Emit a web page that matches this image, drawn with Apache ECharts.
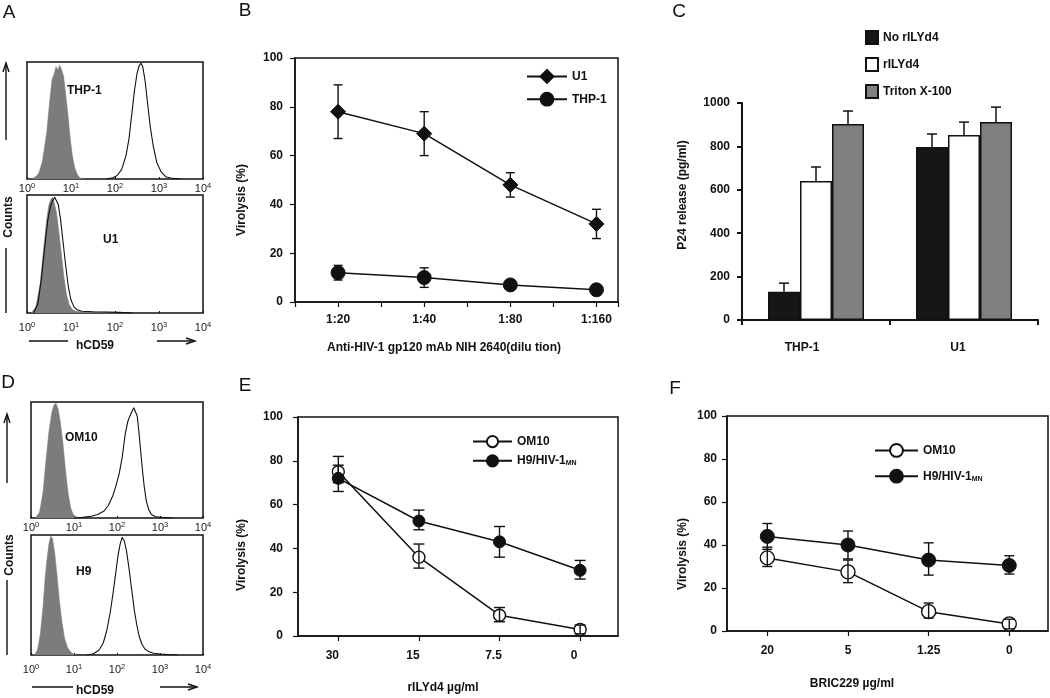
<!DOCTYPE html>
<html><head><meta charset="utf-8">
<script src="https://cdn.jsdelivr.net/npm/echarts@6.0.0/dist/echarts.min.js"></script>
<style>html,body{margin:0;padding:0;background:#fff}#c{width:1050px;height:698px}</style>
</head><body><div id="c"></div>
<script>
// ---------------- DATA ----------------
// Flow histograms: x in decades of log10(fluorescence), y = % of max counts
const aTopIsoX  = [0.1,0.2,0.27,0.35,0.45,0.52,0.57,0.62,0.66,0.7,0.74,0.78,0.83,0.88,0.93,0.98,1.03,1.08,1.14,1.2,1.3];
const aTopIsoY  = [0,2,5,15,40,68,85,90,96,93,97,94,88,72,55,35,20,10,4,1,0];
const aTopCD59X = [1.8,1.95,2.05,2.15,2.25,2.32,2.38,2.44,2.5,2.55,2.59,2.63,2.68,2.74,2.8,2.87,2.95,3.05,3.15,3.3,3.5];
const aTopCD59Y = [0,1,3,8,20,35,55,75,90,97,99,96,85,65,45,28,14,6,2,0.5,0];
const aBotIsoX  = [0.1,0.2,0.3,0.38,0.45,0.5,0.54,0.58,0.62,0.67,0.72,0.78,0.84,0.9,0.96,1.03,1.1,1.2,1.4,1.7,2.0,2.3];
const aBotIsoY  = [0,5,25,55,80,92,96,98,93,85,70,50,30,15,7,3,1.5,1,0.8,0.6,0.4,0];
const aBotCD59X = [0.15,0.25,0.33,0.4,0.47,0.53,0.58,0.63,0.67,0.71,0.76,0.82,0.88,0.94,1.0,1.07,1.15,1.25,1.5,1.8,2.1,2.4];
const aBotCD59Y = [0,8,30,55,78,90,95,98,97,92,80,60,40,22,11,5,2.5,1.5,1,0.8,0.5,0];
const dTopIsoX  = [0.1,0.2,0.28,0.35,0.42,0.48,0.53,0.58,0.63,0.68,0.74,0.8,0.86,0.92,0.98,1.05,1.15];
const dTopIsoY  = [0,5,22,50,75,90,97,99,94,83,65,42,22,9,3,1,0];
const dTopCD59X = [1.0,1.2,1.4,1.55,1.7,1.8,1.9,1.97,2.05,2.12,2.19,2.25,2.3,2.35,2.39,2.43,2.47,2.51,2.55,2.59,2.63,2.68,2.74,2.8,2.9,3.05,3.3];
const dTopCD59Y = [0,0.5,1.5,3,6,11,19,27,38,52,72,83,88,92,95,96,88,74,58,42,28,15,7,3,1,0.5,0];
const dBotIsoX  = [0.08,0.15,0.22,0.28,0.33,0.38,0.42,0.46,0.5,0.55,0.6,0.66,0.72,0.78,0.85,0.93,1.02];
const dBotIsoY  = [0,4,18,40,65,82,93,99,97,85,68,45,27,14,6,2,0];
const dBotCD59X = [1.3,1.45,1.58,1.68,1.76,1.84,1.91,1.97,2.02,2.07,2.12,2.17,2.22,2.28,2.34,2.4,2.46,2.52,2.58,2.65,2.73,2.85,3.0,3.2,3.4];
const dBotCD59Y = [0,1,4,10,20,35,52,68,82,92,98,95,87,72,55,38,25,15,9,5,3,1.5,0.8,0.3,0];
const decadeTicks = [0,1,2,3,4];

// Panel B
const catsB   = ['1:20','1:40','1:80','1:160'];
const u1Mean  = [78,69,48,32];
const u1Lo    = [67,60,43,26];
const u1Hi    = [89,78,53,38];
const thpMean = [12,10,7,5];
const thpLo   = [9,6,5.5,4];
const thpHi   = [15,14,8.5,6];

// Panel C
const catsC     = ['THP-1','U1'];
const noRIL     = [130,797];
const noRILErr  = [170,857];
const rIL       = [640,853];
const rILErr    = [705,912];
const triton    = [903,912];
const tritonErr = [963,981];

// Panel E
const catsE   = ['30','15','7.5','0'];
const om10E   = [75,36,9.5,3];
const om10ELo = [70,31,6.5,1];
const om10EHi = [82,42,13,5];
const h9E     = [72,52.5,43,30];
const h9ELo   = [66,48.5,36,26];
const h9EHi   = [78,57.5,50,34.5];

// Panel F
const catsF   = ['20','5','1.25','0'];
const om10F   = [34,27.5,9,3.3];
const om10FLo = [30,22.5,6,1];
const om10FHi = [39,33,13,5.5];
const h9F     = [44,40,33,30.5];
const h9FLo   = [38,33.5,26,26.5];
const h9FHi   = [50,46.5,41,35];

// ---------------- CHART ----------------
const FONT = '"Liberation Sans", Arial, Helvetica, sans-serif';
const INK = '#111';
const GRAY = '#7c7c7c';
const chart = echarts.init(document.getElementById('c'), null, {renderer:'canvas'});

const boldTxt = {fontFamily:FONT, fontWeight:'bold', fontSize:12, color:INK};

const grids = [
  {left:27, top:62, width:176, height:117},   // 0 A top
  {left:27, top:195, width:176, height:118},  // 1 A bottom
  {left:31, top:402, width:172, height:116},  // 2 D top
  {left:31, top:535, width:172, height:120},  // 3 D bottom
  {left:295, top:58, width:323, height:244},  // 4 B
  {left:742, top:103, width:296, height:217}, // 5 C
  {left:298, top:417, width:320, height:219}, // 6 E
  {left:727, top:416, width:321, height:215}  // 7 F
].map((g,i)=>Object.assign({show: i!==5, borderColor:INK, borderWidth:1.5, backgroundColor:'transparent'}, g));

const histMargins = [3,8,3,8];
const xAxes = [], yAxes = [];
for (let i=0;i<4;i++){
  xAxes.push({type:'value', gridIndex:i, min:0, max:4, interval:1,
    axisLine:{show:false}, splitLine:{show:false},
    axisTick:{show:true, inside:true, length:2, lineStyle:{color:INK, width:1}},
    axisLabel:{margin:histMargins[i], fontFamily:FONT, fontSize:11, color:'#222',
      customValues: decadeTicks,
      formatter: v => '{n|10}{s|' + v + '}',
      rich:{n:{fontSize:11, fontFamily:FONT, color:'#222'}, s:{fontSize:7.5, fontFamily:FONT, color:'#222', padding:[0,0,6,0]}}}});
  yAxes.push({type:'value', gridIndex:i, min:0, max:100, show:false});
}
const axLine = w => ({show:true, onZero:false, lineStyle:{color:INK, width:w}});
const axTick = (w,l) => ({show:true, length:l, lineStyle:{color:INK, width:w}});
// B
xAxes.push({type:'value', gridIndex:4, min:0.5, max:4.25, interval:0.5,
  axisLine:axLine(1.5), axisTick:axTick(1.2,5), splitLine:{show:false},
  axisLabel:Object.assign({margin:12, formatter: v => (Number.isInteger(v) && v>=1 && v<=4) ? catsB[v-1] : ''}, boldTxt)});
yAxes.push({type:'value', gridIndex:4, min:0, max:100, interval:20,
  axisLine:axLine(1.5), axisTick:axTick(1.2,5), splitLine:{show:false},
  axisLabel:Object.assign({margin:12}, boldTxt)});
// C
xAxes.push({type:'category', gridIndex:5, data:catsC,
  axisLine:axLine(2), axisTick:axTick(2,5), splitLine:{show:false},
  axisLabel:Object.assign({margin:22, formatter:(v,i)=> i===0 ? '{l|'+v+'}' : '{r|'+v+'}',
    rich:{l:Object.assign({padding:[0,28,0,0]}, boldTxt), r:Object.assign({padding:[0,12,0,0]}, boldTxt)}}, boldTxt)});
yAxes.push({type:'value', gridIndex:5, min:0, max:1000, interval:200,
  axisLine:axLine(2), axisTick:axTick(2,5), splitLine:{show:false},
  axisLabel:Object.assign({margin:12, formatter: v => String(v)}, boldTxt)});
// E
xAxes.push({type:'value', gridIndex:6, min:0.5, max:4.47, interval:0.5,
  axisLine:axLine(1.5), axisTick:Object.assign(axTick(1.2,5), {customValues:[1,2,3,4]}), splitLine:{show:false},
  axisLabel:Object.assign({margin:14, customValues:[1,2,3,4], formatter: v => '{t|' + catsE[Math.round(v)-1] + '}',
    rich:{t:Object.assign({padding:[0,12,0,0]}, boldTxt)}}, boldTxt)});
yAxes.push({type:'value', gridIndex:6, min:0, max:100, interval:20,
  axisLine:axLine(1.5), axisTick:axTick(1.2,5), splitLine:{show:false},
  axisLabel:Object.assign({margin:15}, boldTxt)});
// F
xAxes.push({type:'value', gridIndex:7, min:0.5, max:4.48, interval:0.5,
  axisLine:axLine(1.5), axisTick:Object.assign(axTick(1.2,5), {customValues:[1,2,3,4]}), splitLine:{show:false},
  axisLabel:Object.assign({margin:14, customValues:[1,2,3,4], formatter: v => catsF[Math.round(v)-1]}, boldTxt)});
yAxes.push({type:'value', gridIndex:7, min:0, max:100, interval:20,
  axisLine:axLine(1.5), axisTick:axTick(1.2,5), splitLine:{show:false},
  axisLabel:Object.assign({margin:10}, boldTxt)});

// series helpers
function hist(gi, xs, ys, filled){
  const s = {type:'line', xAxisIndex:gi, yAxisIndex:gi, silent:true, symbol:'none', smooth:false,
    data: xs.map((x,i)=>[x, ys[i]]), z: filled ? 2 : 3,
    lineStyle:{color: filled ? GRAY : INK, width: filled ? 0.6 : 1.1}};
  if (filled) s.areaStyle = {color:GRAY, opacity:1};
  return s;
}
function pts(vals){ return vals.map((v,i)=>[i+1, v]); }
function lineS(name, gi, vals, symbol, size, open){
  return {type:'line', name, xAxisIndex:gi, yAxisIndex:gi, data:pts(vals), symbol, symbolSize:size,
    showAllSymbol:true, lineStyle:{color:INK, width:1.5}, z:3,
    itemStyle: open ? {color:'#fff', borderColor:INK, borderWidth:1.4} : {color:INK, borderColor:INK, borderWidth:1}};
}
function errS(gi, lo, hi, cap){
  return {type:'custom', xAxisIndex:gi, yAxisIndex:gi, silent:true, z:4,
    data: lo.map((l,i)=>[i+1, l, hi[i]]), encode:{x:0, y:[1,2]},
    renderItem(params, api){
      const x = api.value(0);
      const p1 = api.coord([x, api.value(1)]), p2 = api.coord([x, api.value(2)]);
      const h = cap/2, st = {stroke:INK, lineWidth:1.4};
      return {type:'group', children:[
        {type:'line', shape:{x1:p1[0], y1:p1[1], x2:p2[0], y2:p2[1]}, style:st},
        {type:'line', shape:{x1:p1[0]-h, y1:p1[1], x2:p1[0]+h, y2:p1[1]}, style:st},
        {type:'line', shape:{x1:p2[0]-h, y1:p2[1], x2:p2[0]+h, y2:p2[1]}, style:st}]};
    }};
}
function barErr(vals, errs, idx){
  return {type:'custom', xAxisIndex:5, yAxisIndex:5, silent:true, z:4,
    data: vals.map((v,i)=>[i, v, errs[i]]), encode:{x:0, y:[1,2]},
    renderItem(params, api){
      const c = api.coord([api.value(0), api.value(1)]);
      const t = api.coord([api.value(0), api.value(2)]);
      const x = c[0] + (idx-1)*32;
      const st = {stroke:INK, lineWidth:1.5};
      return {type:'group', children:[
        {type:'line', shape:{x1:x, y1:c[1], x2:x, y2:t[1]}, style:st},
        {type:'line', shape:{x1:x-5, y1:t[1], x2:x+5, y2:t[1]}, style:st}]};
    }};
}
function bar(name, vals, color){
  return {type:'bar', name, xAxisIndex:5, yAxisIndex:5, data:vals, barWidth:32, barGap:'0%',
    itemStyle:{color, borderColor:INK, borderWidth:1.5}, z:2};
}

const series = [
  hist(0, aTopIsoX, aTopIsoY, true), hist(0, aTopCD59X, aTopCD59Y, false),
  hist(1, aBotIsoX, aBotIsoY, true), hist(1, aBotCD59X, aBotCD59Y, false),
  hist(2, dTopIsoX, dTopIsoY, true), hist(2, dTopCD59X, dTopCD59Y, false),
  hist(3, dBotIsoX, dBotIsoY, true), hist(3, dBotCD59X, dBotCD59Y, false),
  lineS('U1', 4, u1Mean, 'diamond', 15, false),
  lineS('THP-1', 4, thpMean, 'circle', 14, false),
  errS(4, u1Lo, u1Hi, 9), errS(4, thpLo, thpHi, 9),
  bar('No rILYd4', noRIL, '#161616'), bar('rILYd4', rIL, '#ffffff'), bar('Triton X-100', triton, '#7f7f7f'),
  barErr(noRIL, noRILErr, 0), barErr(rIL, rILErr, 1), barErr(triton, tritonErr, 2),
  lineS('OM10', 6, om10E, 'circle', 12, true),
  lineS('H9/HIV-1', 6, h9E, 'circle', 12, false),
  errS(6, om10ELo, om10EHi, 11), errS(6, h9ELo, h9EHi, 11),
  lineS('OM10', 7, om10F, 'circle', 14, true),
  lineS('H9/HIV-1', 7, h9F, 'circle', 14, false),
  errS(7, om10FLo, om10FHi, 10), errS(7, h9FLo, h9FHi, 10)
];

const legTxt = Object.assign({}, boldTxt, {
  rich:{n:Object.assign({}, boldTxt), s:Object.assign({}, boldTxt, {fontSize:7, padding:[5,0,0,0]})}});
const subFmt = name => name === 'H9/HIV-1' ? '{n|H9/HIV-1}{s|MN}' : '{n|' + name + '}';
const legends = [
  {data:['U1','THP-1'], left:521, top:64, orient:'vertical', itemWidth:40, itemHeight:16, itemGap:8, textStyle:boldTxt, selectedMode:false},
  {data:['No rILYd4','rILYd4','Triton X-100'], left:860, top:25, orient:'vertical', icon:'rect', itemWidth:12, itemHeight:13, itemGap:12, textStyle:boldTxt, selectedMode:false},
  {data:['OM10','H9/HIV-1'], left:467, top:430, orient:'vertical', itemWidth:39, itemHeight:14, itemGap:6, textStyle:legTxt, formatter:subFmt, selectedMode:false},
  {data:['OM10','H9/HIV-1'], left:869, top:438, orient:'vertical', itemWidth:43, itemHeight:16, itemGap:11, textStyle:legTxt, formatter:subFmt, selectedMode:false}
];

// graphics
const g = [];
function txt(text, x, y, opt){
  g.push(Object.assign({type:'text', x, y, style:Object.assign({text, fill:INK, font:'bold 12px ' + FONT, textAlign:'center', textVerticalAlign:'middle'}, opt && opt.style || {})}, opt && opt.el || {}));
}
function vtxt(text, x, y, font){
  g.push({type:'text', x, y, rotation:Math.PI/2, style:{text, fill:INK, font: font || ('bold 12px ' + FONT), textAlign:'center', textVerticalAlign:'middle'}});
}
function seg(x1,y1,x2,y2,w){
  g.push({type:'line', shape:{x1,y1,x2,y2}, style:{stroke:INK, lineWidth:w||1.4}});
}
function head(points){
  g.push({type:'polyline', shape:{points}, style:{stroke:INK, lineWidth:1.4, fill:null}});
}
// panel letters
[['A',9,13],['B',245,11],['C',679,12],['D',8,383],['E',245,386],['F',675,389]].forEach(p=>{
  txt(p[0], p[1], p[2], {style:{font:'19px ' + FONT}});
});
// histogram labels
txt('THP-1', 67, 91, {style:{textAlign:'left'}});
txt('U1', 103, 240, {style:{textAlign:'left'}});
txt('OM10', 65, 438, {style:{textAlign:'left'}});
txt('H9', 76, 572, {style:{textAlign:'left'}});
// Counts / arrows (A)
seg(6, 140, 6, 64); head([[3,72],[6,63],[9,72]]);
vtxt('Counts', 9, 217);
seg(6, 248, 6, 313);
seg(29, 341, 68, 341);
txt('hCD59', 95, 346);
seg(157, 341, 194, 341); head([[186,338],[195,341],[186,344]]);
// Counts / arrows (D)
seg(7, 483, 7, 415); head([[4,423],[7,414],[10,423]]);
vtxt('Counts', 10, 555);
seg(7, 580, 7, 655);
seg(32, 687, 73, 687);
txt('hCD59', 95, 691);
seg(160, 687, 196, 687); head([[188,684],[197,687],[188,690]]);
// axis titles
vtxt('Virolysis (%)', 242, 200);
txt('Anti-HIV-1 gp120 mAb NIH 2640(dilu tion)', 444, 348);
vtxt('P24 release (pg/ml)', 683, 195);
vtxt('Virolysis (%)', 242, 555);
txt('rILYd4 µg/ml', 443, 688);
vtxt('Virolysis (%)', 683, 554);
txt('BRIC229 µg/ml', 852, 684);

chart.setOption({
  animation:false,
  backgroundColor:'#fff',
  textStyle:{fontFamily:FONT},
  grid:grids, xAxis:xAxes, yAxis:yAxes,
  legend:legends, series, graphic:g
});
</script></body></html>
